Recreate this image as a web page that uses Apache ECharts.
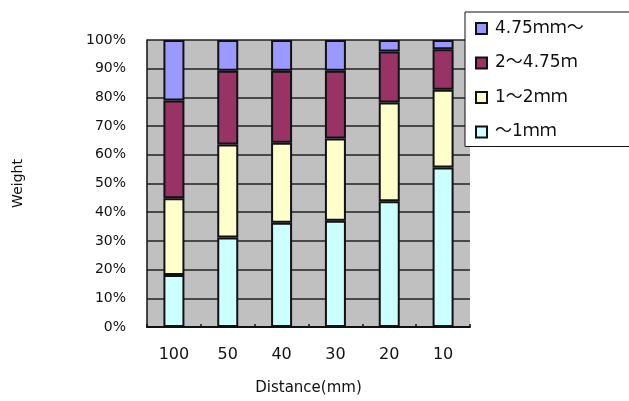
<!DOCTYPE html>
<html>
<head>
<meta charset="utf-8">
<script src="https://cdn.jsdelivr.net/npm/echarts@6/dist/echarts.min.js"></script>
<style>
html,body{margin:0;padding:0;background:#fff;}
#c{width:629px;height:401px;}
</style>
</head>
<body>
<div id="c"></div>
<script>
var categories = ['100', '50', '40', '30', '20', '10'];
var seriesNames = ['～1ｍｍ', '1～2ｍｍ', '2～4.75ｍ', '4.75ｍｍ～'];
var under1 = [18.1, 31.2, 36.3, 37.0, 43.8, 55.6];
var from1to2 = [26.8, 32.4, 27.9, 28.7, 34.4, 27.1];
var from2to475 = [34.0, 25.7, 25.1, 23.6, 17.8, 14.1];
var over475 = [21.1, 10.7, 10.7, 10.7, 4.0, 3.2];
var yTicks = [0, 10, 20, 30, 40, 50, 60, 70, 80, 90, 100];

var colors = ['#CCFFFF', '#FFFFCC', '#993366', '#9999FF'];
var values = [under1, from1to2, from2to475, over475];
var FONT = '"DejaVu Sans", "Noto Sans CJK JP", sans-serif';

var chart = echarts.init(document.getElementById('c'), null, {renderer: 'canvas'});
var series = seriesNames.map(function (n, i) {
  return {
    name: n,
    type: 'bar',
    stack: 'total',
    barWidth: 21,
    data: values[i],
    itemStyle: {color: colors[i], borderColor: '#111', borderWidth: 2},
    emphasis: {disabled: true}
  };
});

chart.setOption({
  animation: false,
  textStyle: {fontFamily: FONT},
  grid: {left: 147, right: 159, top: 40, bottom: 71, show: true, backgroundColor: '#C0C0C0', borderWidth: 0},
  legend: {
    orient: 'vertical',
    left: 465,
    top: 12,
    data: seriesNames.slice().reverse(),
    icon: 'rect',
    itemWidth: 11,
    itemHeight: 11,
    itemGap: 17.5,
    padding: [8, 80, 6, 10],
    backgroundColor: '#fff',
    borderColor: '#111',
    borderWidth: 1,
    selectedMode: false,
    textStyle: {fontFamily: FONT, fontSize: 17, color: '#111', padding: [0, 0, 0, 3]}
  },
  xAxis: {
    type: 'category',
    data: categories,
    name: 'Distance(mm)',
    nameLocation: 'middle',
    nameGap: 54,
    nameTextStyle: {fontFamily: FONT, fontSize: 15, color: '#111'},
    axisLine: {lineStyle: {color: '#111', width: 2}},
    axisTick: {show: true, inside: true, length: 3, lineStyle: {color: '#111', width: 1.5}},
    axisLabel: {fontFamily: FONT, fontSize: 16, color: '#111', margin: 20},
    splitLine: {show: false}
  },
  yAxis: {
    type: 'value',
    min: 0,
    max: 100,
    interval: 10,
    name: 'Weight',
    nameLocation: 'middle',
    nameGap: 122,
    nameTextStyle: {fontFamily: FONT, fontSize: 14, color: '#111'},
    axisLine: {show: true, lineStyle: {color: '#111', width: 1.5}},
    axisTick: {show: false},
    axisLabel: {
      fontFamily: FONT, fontSize: 14, color: '#111', margin: 21,
      formatter: function (v) { return yTicks.indexOf(v) >= 0 ? v + '%' : ''; }
    },
    splitLine: {show: true, lineStyle: {color: '#222', width: 1.5}}
  },
  series: series
});
</script>
</body>
</html>
